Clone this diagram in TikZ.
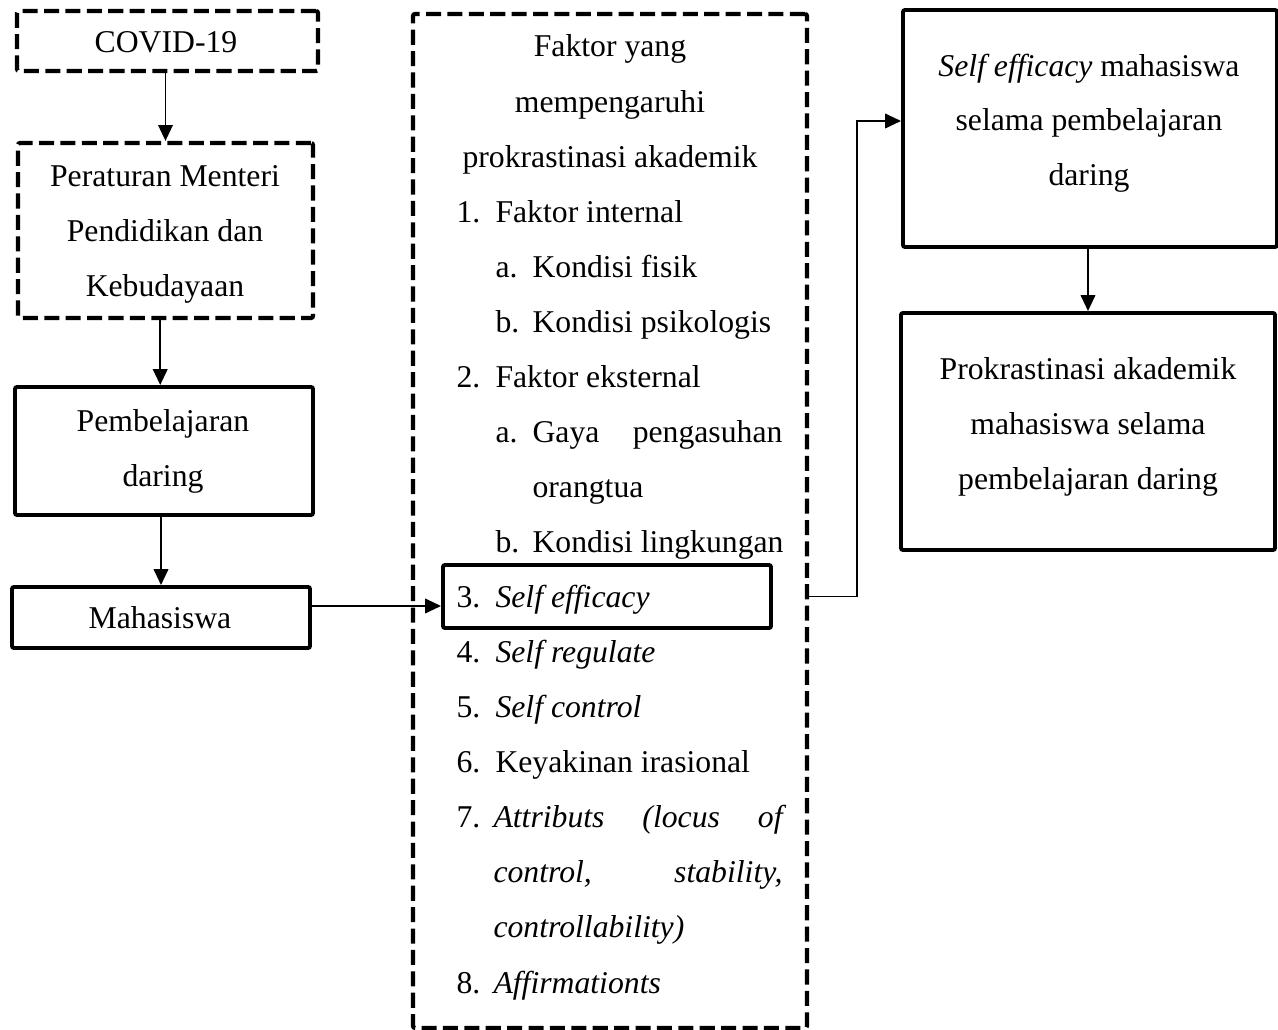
\documentclass[tikz,border=0pt]{standalone}
\usepackage{fontspec}
\setmainfont{Liberation Serif}
\usetikzlibrary{arrows.meta,calc}
\begin{document}
\fontsize{12pt}{20.84pt}\selectfont
\begin{tikzpicture}[
  x=0.3785pt, y=-0.3785pt,
  solidbox/.style={draw, line width=1.5pt, rounded corners=0.8pt, inner sep=0pt},
  dashbox/.style={draw, line width=1.6pt, dash pattern=on 5.7pt off 2.4pt, rounded corners=0.8pt, inner sep=0pt},
  txt/.style={inner sep=0pt, anchor=base},
  txtw/.style={inner sep=0pt, anchor=base west},
  arr/.style={line width=0.7pt, -{Triangle[length=6pt,width=5.5pt]}}
]
\useasboundingbox (0,0) rectangle (1278,1030);

% boxes
\node[dashbox, minimum width=113.93pt, minimum height=22.71pt] (covid) at (167.5,41) {};
\node[dashbox, minimum width=111.66pt, minimum height=66.24pt] (perat) at (165.5,230.5) {};
\node[solidbox, minimum width=112.79pt, minimum height=48.45pt] (pemb) at (164,451) {};
\node[solidbox, minimum width=112.79pt, minimum height=23.09pt] (mhs) at (161,617.5) {};
\node[dashbox, minimum width=149.13pt, minimum height=383.80pt] (big) at (610,521) {};
\node[solidbox, minimum width=124.15pt, minimum height=23.85pt] (se3) at (607,596.5) {};
\node[solidbox, minimum width=141.56pt, minimum height=89.70pt] (seff) at (1090,128.5) {};
\node[solidbox, minimum width=141.56pt, minimum height=89.70pt] (prok) at (1088,431.5) {};

% left texts
\node[txt] (tcovid) at (166,53) {COVID-19};
\node[txt] (tper1) at (165,187) {Peraturan Menteri};
\node[txt] (tper2) at (165,242) {Pendidikan dan};
\node[txt] (tper3) at (165,297) {Kebudayaan};
\node[txt] (tpem1) at (163,432) {Pembelajaran};
\node[txt] (tpem2) at (163,487) {daring};
\node[txt] (tmhs) at (160,629) {Mahasiswa};

% right texts
\node[txt] (tse1) at (1089,77) {\textit{Self efficacy} mahasiswa};
\node[txt] (tse2) at (1089,131) {selama pembelajaran};
\node[txt] (tse3) at (1089,186) {daring};
\node[txt] (tpk1) at (1088,380) {Prokrastinasi akademik};
\node[txt] (tpk2) at (1088,435) {mahasiswa selama};
\node[txt] (tpk3) at (1088,490) {pembelajaran daring};

% big box texts
\node[txt] (h1) at (610,57) {Faktor yang};
\node[txt] (h2) at (610,112.06) {mempengaruhi};
\node[txt] (h3) at (610,167.12) {prokrastinasi akademik};
\node[txtw] (n1) at (456,222.18) {1.};
\node[txtw] (l1) at (495,222.18) {Faktor internal};
\node[txtw] (a1) at (495,277.24) {a.};
\node[txtw] (la1) at (532,277.24) {Kondisi fisik};
\node[txtw] (b1) at (495,332.3) {b.};
\node[txtw] (lb1) at (532,332.3) {Kondisi psikologis};
\node[txtw] (n2) at (456,387.36) {2.};
\node[txtw] (l2) at (495,387.36) {Faktor eksternal};
\node[txtw] (a2) at (495,442.42) {a.};
\node[txtw] (la2) at (532,442.42) {\makebox[94.6pt][s]{Gaya pengasuhan}};
\node[txtw] (la2b) at (532,497.48) {orangtua};
\node[txtw] (b2) at (495,552.54) {b.};
\node[txtw] (lb2) at (532,552.54) {Kondisi lingkungan};
\node[txtw] (n3) at (456,607.6) {3.};
\node[txtw] (l3) at (495,607.6) {\textit{Self efficacy}};
\node[txtw] (n4) at (456,662.66) {4.};
\node[txtw] (l4) at (495,662.66) {\textit{Self regulate}};
\node[txtw] (n5) at (456,717.72) {5.};
\node[txtw] (l5) at (495,717.72) {\textit{Self control}};
\node[txtw] (n6) at (456,772.78) {6.};
\node[txtw] (l6) at (495,772.78) {Keyakinan irasional};
\node[txtw] (n7) at (456,827.84) {7.};
\node[txtw] (l7) at (493,827.84) {\itshape\makebox[109.4pt][s]{Attributs (locus of}};
\node[txtw] (l7b) at (493,882.9) {\itshape\makebox[109.4pt][s]{control, stability,}};
\node[txtw] (l7c) at (493,937.96) {\textit{controllability)}};
\node[txtw] (n8) at (456,993.02) {8.};
\node[txtw] (l8) at (493,993.02) {\textit{Affirmationts}};

% connectors
\draw[arr] (perat.north |- covid.south) -- (perat.north);
\draw[arr] ([xshift=-2pt]perat.south) -- ([xshift=-2pt]perat.south |- pemb.north);
\draw[arr] (mhs.north |- pemb.south) -- (mhs.north);
\coordinate (m4) at ($(se3.west)+(0,9.5)$);
\draw[arr] (m4 -| mhs.east) -- (m4);
\draw[arr] (se3.east -| big.east) -- ++(48,0) |- ($(seff.west)+(0,-7.5)$);
\draw[arr] (prok.north |- seff.south) -- (prok.north);
\end{tikzpicture}
\end{document}
